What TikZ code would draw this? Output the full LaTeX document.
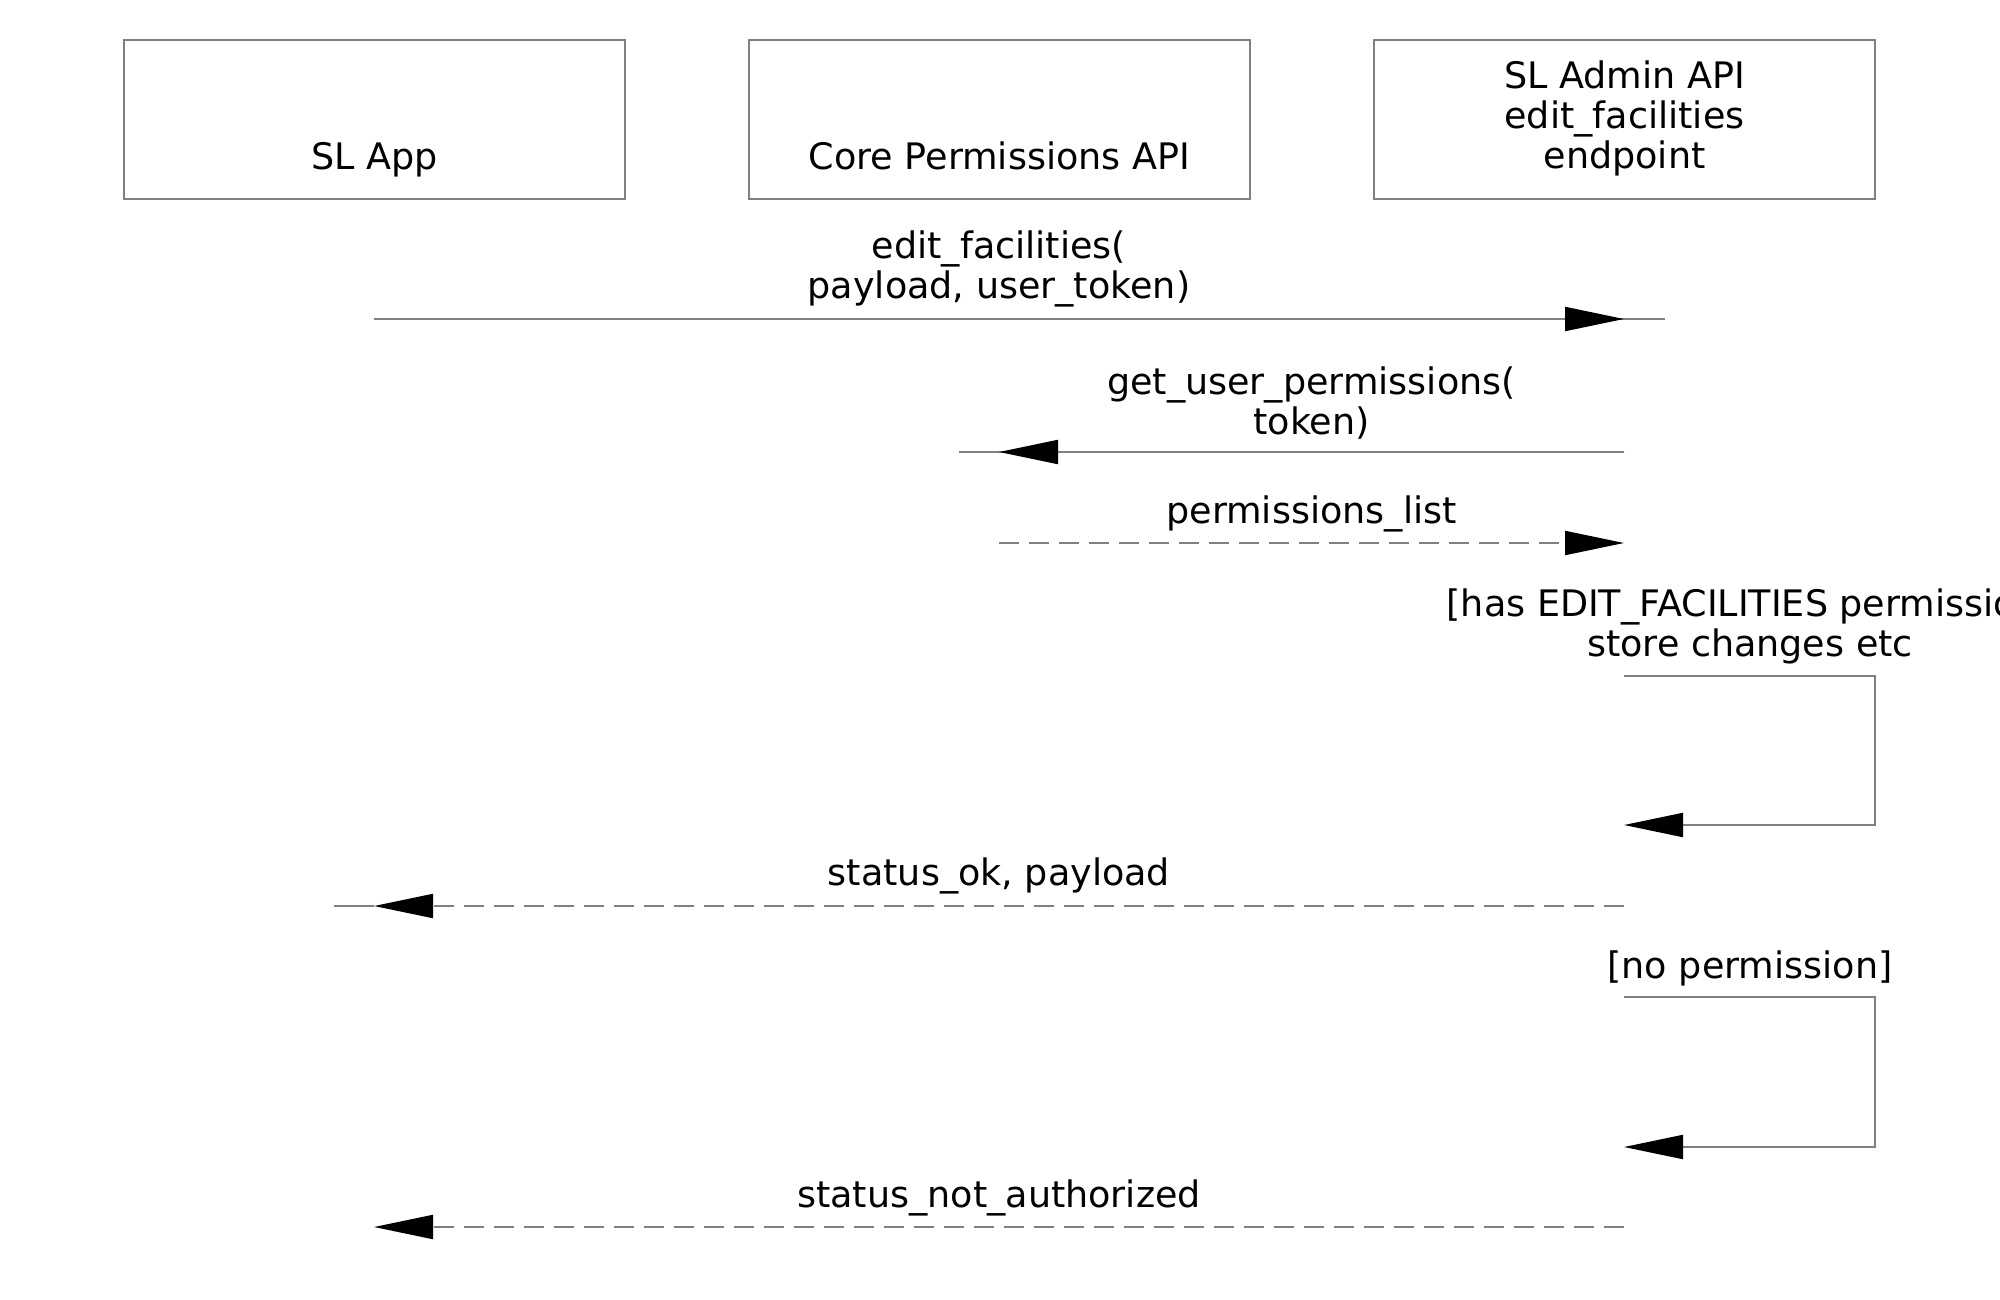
\documentclass[tikz,border=0pt]{standalone}
\usepackage{fontspec}
\setmainfont{DejaVu Sans}
\usetikzlibrary{arrows.meta}
\begin{document}
\begin{tikzpicture}[x=1pt,y=-1pt,
  font=\fontsize{36.5}{40}\selectfont,
  lane/.style={draw=gray, line width=2pt, minimum width=501pt, minimum height=159pt, inner sep=0pt},
  msg/.style={draw=gray, line width=2pt},
  ret/.style={msg, dash pattern=on 20pt off 10pt},
  tip/.style={-{Triangle[length=59pt,width=24pt,color=black]}},
  lbl/.style={align=center, inner sep=0pt, anchor=south}
]
\useasboundingbox (0,0) rectangle (2000,1300);

% participants
\node[lane] (app) at (374.5,119.5) {};
\node[lane] (core) at (999.5,119.5) {};
\node[lane] (admin) at (1624.5,119.5) {};
\node[anchor=base, inner sep=0pt] (appT) at (374.5,170) {SL App};
\node[anchor=base, inner sep=0pt] (coreT) at (999.5,170) {Core Permissions API};
\node[lbl] (adminT) at (1624.5,176) {SL Admin API\\edit\_facilities\\endpoint};

% message 1
\coordinate (m1a) at (374,319);
\coordinate (m1b) at (1624,319);
\coordinate (m1c) at (1665,319);
\draw[msg] (m1a) -- (m1c);
\draw[msg,tip] (m1a) -- (m1b);
\node[lbl] (l1) at (999,307) {edit\_facilities(\\payload, user\_token)};

% message 2
\coordinate (m2a) at (1624,452);
\coordinate (m2b) at (999,452);
\coordinate (m2c) at (959,452);
\draw[msg] (m2a) -- (m2c);
\draw[msg,tip] (m2a) -- (m2b);
\node[lbl] (l2) at (1311.5,440) {get\_user\_permissions(\\token)};

% message 3
\coordinate (m3a) at (999,543);
\coordinate (m3b) at (1624,543);
\draw[ret,tip] (m3a) -- (m3b);
\node[lbl] (l3) at (1311.5,532) {permissions\_list};

% self message 1
\coordinate (s1a) at (1624,676);
\coordinate (s1b) at (1875,676);
\coordinate (s1c) at (1875,825);
\coordinate (s1d) at (1624,825);
\draw[msg,tip] (s1a) -- (s1b) -- (s1c) -- (s1d);
\node[lbl] (l4) at (1750,664) {[has EDIT\_FACILITIES permission]\\store changes etc};

% status ok
\coordinate (m5a) at (1624,906);
\coordinate (m5b) at (374,906);
\coordinate (m5c) at (334,906);
\draw[msg] (m5b) -- (m5c);
\draw[ret,tip] (m5a) -- (m5b);
\node[lbl] (l5) at (999,894) {status\_ok, payload};

% self message 2
\coordinate (s2a) at (1624,997);
\coordinate (s2b) at (1875,997);
\coordinate (s2c) at (1875,1147);
\coordinate (s2d) at (1624,1147);
\draw[msg,tip] (s2a) -- (s2b) -- (s2c) -- (s2d);
\node[lbl] (l6) at (1750,986) {[no permission]};

% status not authorized
\coordinate (m7a) at (1624,1227);
\coordinate (m7b) at (374,1227);
\draw[ret,tip] (m7a) -- (m7b);
\node[lbl] (l7) at (999,1216) {status\_not\_authorized};
\end{tikzpicture}
\end{document}
